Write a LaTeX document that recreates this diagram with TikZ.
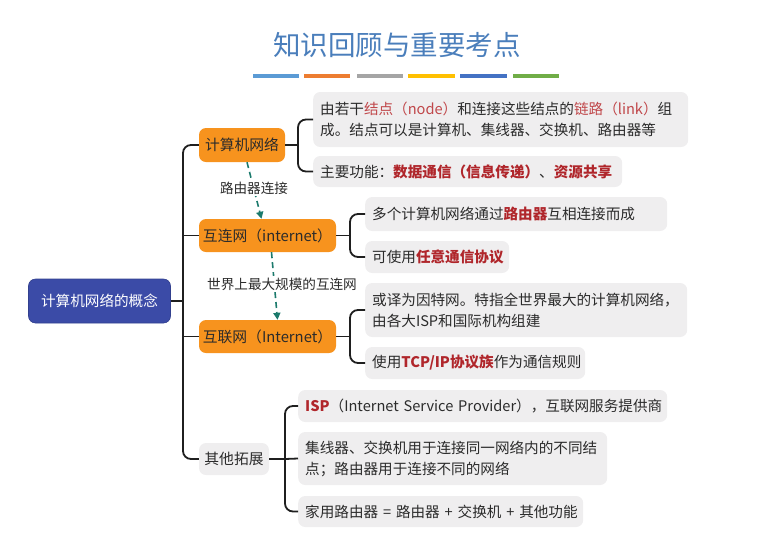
\documentclass[tikz,border=0pt]{standalone}
\usepackage{fontspec}
\setmainfont{Noto Sans CJK SC}
\usetikzlibrary{arrows.meta}
\definecolor{titleblue}{HTML}{4A7EBB}
\definecolor{barA}{HTML}{5B9BD5}
\definecolor{barB}{HTML}{ED7D31}
\definecolor{barC}{HTML}{A5A5A5}
\definecolor{barD}{HTML}{FFC000}
\definecolor{barE}{HTML}{4472C4}
\definecolor{barF}{HTML}{70AD47}
\definecolor{rootblue}{HTML}{3B4BA7}
\definecolor{orangefill}{HTML}{F7931E}
\definecolor{leafgray}{HTML}{EFEEEF}
\definecolor{txt}{HTML}{2B2B2B}
\definecolor{redl}{HTML}{C0474A}
\definecolor{redb}{HTML}{B0262B}
\definecolor{tealc}{HTML}{1B7A6C}
\newcommand{\rl}[1]{{\color{redl}#1}}
\newcommand{\rb}[1]{{\color{redb}\bfseries #1}}
\begin{document}
\begin{tikzpicture}[x=1pt,y=-1pt,
  conn/.style={draw=black!88, line width=1.8pt, rounded corners=8pt},
  leaf/.style={fill=leafgray, rounded corners=7pt, inner xsep=7pt, inner ysep=0pt, anchor=west, align=left, text=txt, font=\fontsize{14.6}{21}\selectfont},
  branch/.style={fill=orangefill, rounded corners=7pt, inner sep=0pt, text=txt, font=\fontsize{14.8}{17}\selectfont},
  lbl/.style={fill=white, inner sep=1.5pt, text=txt, font=\fontsize{13.6}{16}\selectfont},
  darrow/.style={draw=tealc, line width=1.6pt, dash pattern=on 6pt off 4pt, -{Triangle[length=7pt,width=7pt]}}
]
\useasboundingbox (0,0) rectangle (768,539);
% title
\node[text=titleblue, font=\fontsize{27.5}{30}\selectfont] (title) at (397,45) {知识回顾与重要考点};
\fill[barA] (253,74) rectangle (299,78);
\fill[barB] (304,74) rectangle (350,78);
\fill[barC] (357,74) rectangle (403,78);
\fill[barD] (408,74) rectangle (455,78);
\fill[barE] (460,74) rectangle (507,78);
\fill[barF] (513,74) rectangle (559,78);

% root
\node[fill=rootblue, draw=rootblue!85!black, line width=0.6pt, rounded corners=7pt, minimum width=142pt, minimum height=44pt, inner sep=0pt, text=white, font=\fontsize{14.6}{17}\selectfont] (root) at (99.5,301) {计算机网络的概念};

% branches
\node[branch, minimum width=86pt, minimum height=34pt] (n1) at (242,145) {计算机网络};
\node[branch, minimum width=137pt, minimum height=33pt] (n2) at (267.5,235.5) {互连网（internet）};
\node[branch, minimum width=137pt, minimum height=33pt] (n3) at (267.5,336.5) {互联网（Internet）};
\node[fill=leafgray, rounded corners=7pt, inner sep=0pt, minimum width=70pt, minimum height=32pt, text=txt, font=\fontsize{14.8}{17}\selectfont] (n4) at (234,459) {其他拓展};

% leaves
\node[leaf, text width=361pt, minimum height=55pt] (a1) at (313,119.5) {\mbox{由若干\rl{结点（node）}和连接这些结点的\rl{链路（link）}组}\\\mbox{成。结点可以是计算机、集线器、交换机、路由器等}};
\node[leaf, text width=295pt, minimum height=31pt] (a2) at (313,171.5) {\mbox{主要功能：\rb{数据通信（信息传递）}、\rb{资源共享}}};
\node[leaf, text width=288pt, minimum height=34pt] (b1) at (365,214) {\mbox{多个计算机网络通过\rb{路由器}互相连接而成}};
\node[leaf, text width=130pt, minimum height=32pt] (b2) at (365,257) {\mbox{可使用\rb{任意通信协议}}};
\node[leaf, text width=308pt, minimum height=54pt] (c1) at (365,310) {\mbox{或译为因特网。特指全世界最大的计算机网络，}\\\mbox{由各大ISP和国际机构组建}};
\node[leaf, text width=206pt, minimum height=32pt] (c2) at (365,363) {\mbox{使用\rb{TCP/IP协议族}作为通信规则}};
\node[leaf, text width=355pt, minimum height=32pt] (d1) at (298,406) {\mbox{\rb{ISP}（Internet Service Provider），互联网服务提供商}};
\node[leaf, text width=295pt, minimum height=53pt] (d2) at (298,458.5) {\mbox{集线器、交换机用于连接同一网络内的不同结}\\\mbox{点；路由器用于连接不同的网络}};
\node[leaf, text width=271pt, minimum height=31pt] (d3) at (298,511.5) {\mbox{家用路由器 = 路由器 + 交换机 + 其他功能}};

% trunk
\coordinate (trunk) at (183,301);
\draw[conn] (n1.west) -| (trunk) |- (n4.west);
\draw[conn] (root.east) -- (trunk);
\draw[conn] (trunk |- n2.west) -- (n2.west);
\draw[conn] (trunk |- n3.west) -- (n3.west);

% brackets
\coordinate (ba) at (298,145);
\draw[conn] (n1.east) -- (ba);
\draw[conn] (a1.west) -| (ba) |- (a2.west);
\coordinate (bb) at (350,235.5);
\draw[conn] (n2.east) -- (bb);
\draw[conn] (b1.west) -| (bb) |- (b2.west);
\coordinate (bc) at (350,336.5);
\draw[conn] (n3.east) -- (bc);
\draw[conn] (c1.west) -| (bc) |- (c2.west);
\coordinate (bd) at (285,459);
\draw[conn] (n4.east) -- (bd);
\draw[conn] (d1.west) -| (bd) |- (d3.west);
\draw[conn] (bd) -- (d2.west);

% dashed arrows with labels
\draw[darrow] ([xshift=5pt]n1.south) -- ([xshift=-6pt]n2.north);
\node[lbl] (l1) at (254,188) {路由器连接};
\draw[darrow] ([xshift=4pt]n2.south) -- ([xshift=10pt]n3.north);
\node[lbl] (l2) at (282,284) {世界上最大规模的互连网};
\end{tikzpicture}
\end{document}
